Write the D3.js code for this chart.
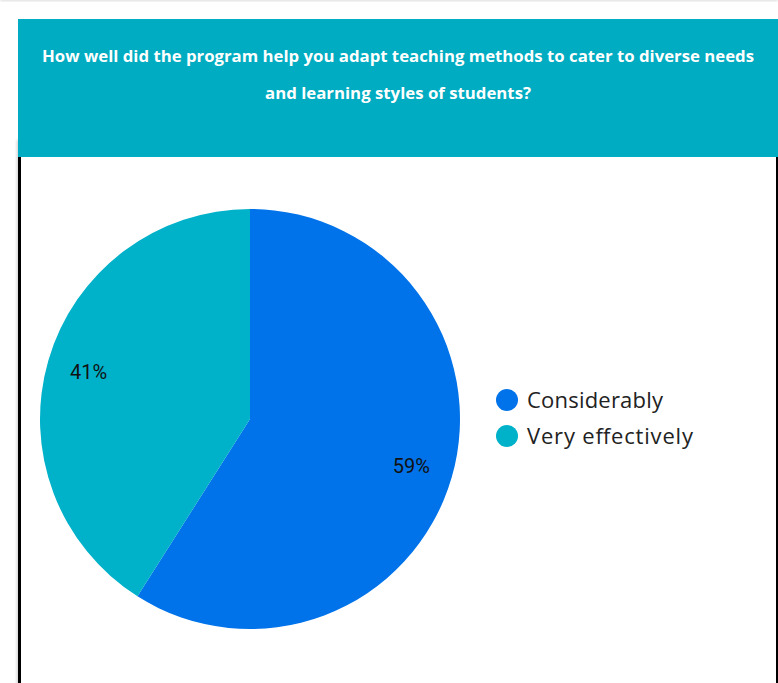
<!DOCTYPE html>
<html><head><meta charset="utf-8">
<script src="https://cdn.jsdelivr.net/npm/d3@7"></script>
<style>
html,body{margin:0;padding:0;background:#fff;overflow:hidden;}
</style></head>
<body>
<script>
const categories = ["Considerably", "Very effectively"];
const values = [59, 41];
const colors = ["#0073EA", "#00B2C9"];
const titleLines = ["How well did the program help you adapt teaching methods to cater to diverse needs", "and learning styles of students?"];
const titleWidths = [712, 266];
const legendWidths = [136, 166];

const W = 778, H = 683;
const svg = d3.select("body").append("svg").attr("width", W).attr("height", H);
const defs = svg.append("defs");
const f = defs.append("filter").attr("id","sh").attr("x","-5%").attr("y","-5%").attr("width","110%").attr("height","110%");
f.append("feGaussianBlur").attr("stdDeviation",1.5);

svg.append("rect").attr("x",0).attr("y",-10).attr("width",W).attr("height",11).attr("fill","#ddd").attr("filter","url(#sh)");
svg.append("rect").attr("x",17).attr("y",140).attr("width",W).attr("height",600).attr("fill","#ccc").attr("filter","url(#sh)");
svg.append("rect").attr("x",18).attr("y",140).attr("width",760).attr("height",600).attr("fill","#fff");
svg.append("rect").attr("x",18).attr("y",150).attr("width",3).attr("height",560).attr("fill","#000");
svg.append("rect").attr("x",776).attr("y",150).attr("width",3).attr("height",560).attr("fill","#000");
svg.append("rect").attr("x",18).attr("y",19).attr("width",W-18).attr("height",138).attr("fill","#00ACC1");
svg.append("g").selectAll("text").data(titleLines).join("text")
  .attr("x",398).attr("y",(d,i)=>62+i*37)
  .attr("text-anchor","middle").attr("fill","#fff")
  .attr("font-family","'Open Sans', sans-serif").attr("font-weight","bold").attr("font-size","15.5px")
  .attr("textLength",(d,i)=>titleWidths[i]).attr("lengthAdjust","spacingAndGlyphs")
  .text(d=>d);

const cx = 250, cy = 419, R = 210;
const data = categories.map((c,i)=>({cat:c, v:values[i], color:colors[i]}));
const pie = d3.pie().value(d=>d.v).sort(null);
const arcs = pie(data);
const arc = d3.arc().innerRadius(0).outerRadius(R);
const labelArc = d3.arc().innerRadius(R*0.8).outerRadius(R*0.8);
const g = svg.append("g").attr("transform",`translate(${cx},${cy})`);
g.selectAll("path").data(arcs).join("path").attr("d",arc).attr("fill",d=>d.data.color);
g.selectAll("text").data(arcs).join("text")
  .attr("transform",d=>`translate(${labelArc.centroid(d)})`)
  .attr("text-anchor","middle").attr("dy","0.35em")
  .attr("font-family","Roboto, sans-serif").attr("font-size","20px").attr("fill","#111")
  .text(d=>d.data.v+"%");

const leg = svg.append("g");
const ly = d3.scaleBand().domain(categories).range([382,454]);
const items = leg.selectAll("g").data(data).join("g")
  .attr("transform",d=>`translate(507,${ly(d.cat)+ly.bandwidth()/2})`);
items.append("circle").attr("r",11).attr("fill",d=>d.color);
items.append("text").attr("x",20).attr("dy","0.35em")
  .attr("font-family","'Open Sans', sans-serif").attr("font-size","22px").attr("fill","#222")
  .attr("textLength",(d,i)=>legendWidths[i]).attr("lengthAdjust","spacing")
  .text(d=>d.cat);
</script>
</body></html>
